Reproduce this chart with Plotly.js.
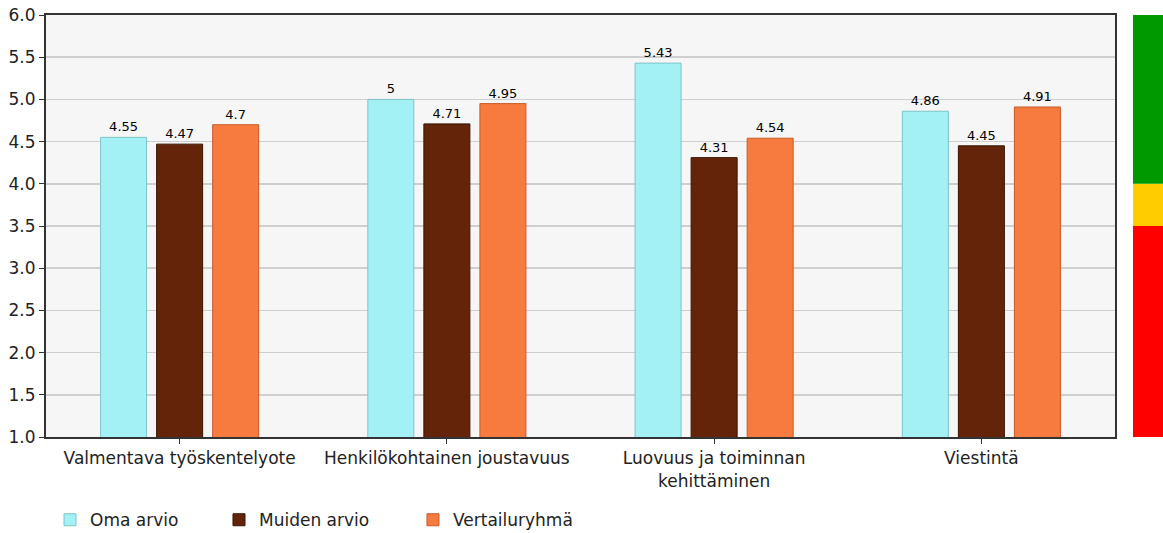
<!DOCTYPE html>
<html><head><meta charset="utf-8">
<script src="https://cdn.plot.ly/plotly-3.0.1.min.js"></script>
<style>body{margin:0;background:#fff}#c{width:1163px;height:533px}</style>
</head><body><div id="c"></div>
<script>
const categories = ["Valmentava työskentelyote", "Henkilökohtainen joustavuus", "Luovuus ja toiminnan<br>kehittäminen", "Viestintä"];
const omaArvio = [4.55, 5, 5.43, 4.86];
const muidenArvio = [4.47, 4.71, 4.31, 4.45];
const vertailuryhma = [4.7, 4.95, 4.54, 4.91];
const seriesNames = ["Oma arvio", "Muiden arvio", "Vertailuryhmä"];
const bandLimits = [1, 3.5, 4, 6];
const bandColors = ["#ff0000", "#ffcc00", "#009900"];

function tr(vals, name, color, line, leg) {
  return {
    type: "bar", x: categories, y: vals, name: name, legend: leg,
    marker: {color: color, line: {color: line, width: 1}},
    text: vals.map(v => String(v)), textposition: "outside", cliponaxis: false,
    textfont: {family: "DejaVu Sans", size: 13, color: "#000"},
    base: 0
  };
}
const data = [
  tr(omaArvio, seriesNames[0], "#a3f1f5", "#7cc4c8", "legend"),
  tr(muidenArvio, seriesNames[1], "#63240a", "#3a1400", "legend2"),
  tr(vertailuryhma, seriesNames[2], "#f77b3e", "#c85a25", "legend3")
];
const shapes = [];
for (let i = 0; i < bandColors.length; i++) {
  shapes.push({type: "rect", xref: "paper", yref: "y", x0: 1.0168, x1: 1.045,
    y0: bandLimits[i], y1: bandLimits[i+1], fillcolor: bandColors[i], line: {width: 0}, layer: "above"});
}
function leg(x) {
  return {orientation: "h", xref: "container", yref: "container", x: x, y: 0.024, yanchor: "middle", xanchor: "left",
    font: {size: 17, color: "#222"}, itemwidth: 30, bgcolor: "rgba(0,0,0,0)"};
}
const layout = {
  width: 1163, height: 533,
  margin: {l: 46, r: 48, t: 15, b: 96},
  paper_bgcolor: "#fff", plot_bgcolor: "#f6f6f6",
  font: {family: "DejaVu Sans", color: "#222"},
  barmode: "group", bargap: 0.371, bargroupgap: 0.179,
  showlegend: true,
  legend: leg(0.043), legend2: leg(0.1883), legend3: leg(0.3551),
  xaxis: {showline: true, linecolor: "#333", linewidth: 2, mirror: true, automargin: false,
    ticks: "outside", ticklen: 5, tickcolor: "#333", tickfont: {size: 17, color: "#222"}, fixedrange: true},
  yaxis: {range: [1, 6], dtick: 0.5, tickformat: ".1f", showline: true, linecolor: "#333", linewidth: 2, mirror: true, automargin: false,
    ticks: "outside", ticklen: 5, tickcolor: "#333", gridcolor: "#cfcfcf", gridwidth: 1.5,
    tickfont: {size: 17, color: "#222"}, zeroline: false},
  shapes: shapes
};
Plotly.newPlot("c", data, layout, {displayModeBar: false, staticPlot: true});
</script></body></html>
